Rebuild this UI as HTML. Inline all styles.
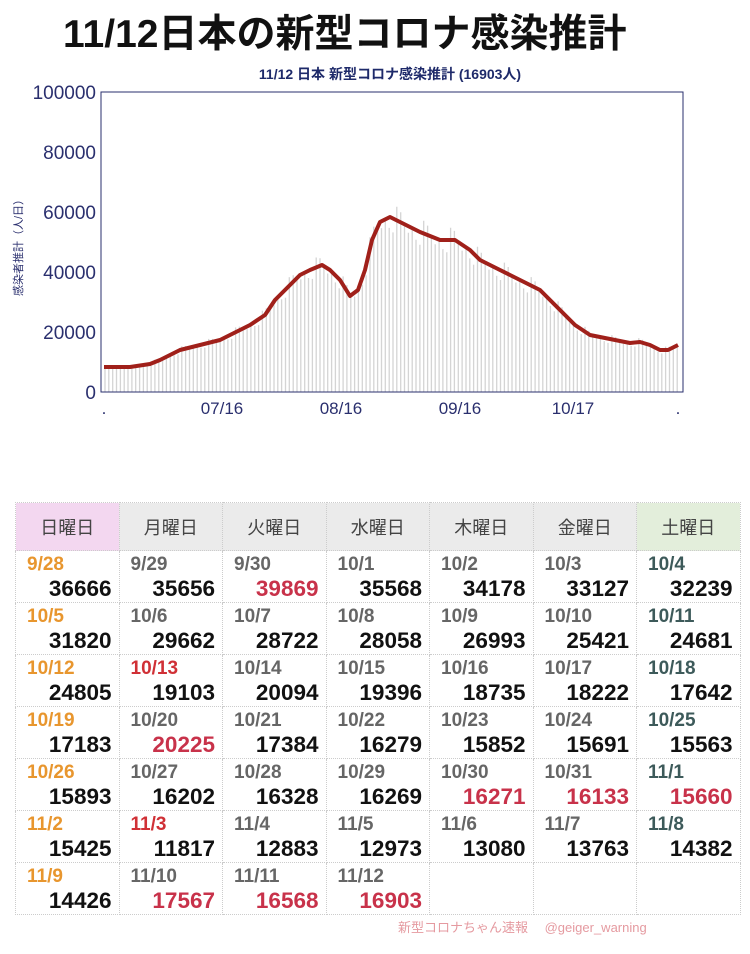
<!DOCTYPE html>
<html><head><meta charset="utf-8">
<style>
*{margin:0;padding:0;box-sizing:border-box}
body{width:750px;height:954px;background:#fff;position:relative;overflow:hidden;font-family:"Liberation Sans","Noto Sans CJK JP",sans-serif}
.title{position:absolute;left:63px;top:3px;font-size:39px;font-weight:bold;color:#111;letter-spacing:0px;white-space:nowrap}
table{position:absolute;left:15px;top:502px;border-collapse:collapse;table-layout:fixed;width:725px}
td,th{border:1px dotted #ccc;width:103.5px}
th{height:48px;font-weight:normal;font-size:18px;color:#444;background:#ebebeb}
th.su{background:#f3d7f0}th.sa{background:#e3eedb}
td{height:52px;vertical-align:top;padding:3px 7px 0 11px}
td .d{font-size:19px;color:#666;font-weight:bold;line-height:22px}
td .n{font-size:22.5px;font-weight:bold;color:#111;text-align:right;line-height:26px}
.o{color:#e8962e!important}.s{color:#3d5a5a!important}.r{color:#d03036!important}.rn{color:#c8324a!important}
.foot{position:absolute;left:398px;top:917px;font-size:13px;color:#e59aa0}
</style></head><body>
<div class="title">11/12日本の新型コロナ感染推計</div>
<svg id="ch" width="750" height="440" style="position:absolute;left:0;top:0">
<text x="390" y="79" font-size="14" font-weight="bold" fill="#1e2a6a" text-anchor="middle">11/12 日本 新型コロナ感染推計 (16903人)</text>
<g font-size="19" fill="#2a2f6e" text-anchor="end">
<text x="96" y="99">100000</text><text x="96" y="159">80000</text><text x="96" y="219">60000</text>
<text x="96" y="279">40000</text><text x="96" y="339">20000</text><text x="96" y="399">0</text>
</g>
<text transform="translate(22,245) rotate(-90)" font-size="11" fill="#2a2f6e" text-anchor="middle">感染者推計（人/日）</text>
<g id="bars" stroke="#d4d4d4" stroke-width="1.3"></g>
<rect x="101" y="92" width="582" height="300" fill="none" stroke="#2a2f6e" stroke-width="1"/>
<polyline id="ln" fill="none" stroke="#a0201a" stroke-width="4" stroke-linejoin="round"/>
<g font-size="17" fill="#2a2f6e" text-anchor="middle">
<text x="104" y="414">.</text><text x="222" y="414">07/16</text><text x="341" y="414">08/16</text>
<text x="460" y="414">09/16</text><text x="573" y="414">10/17</text><text x="678" y="414">.</text>
</g>
</svg>
<script>
var P=[[104,367],[130,367],[150,364],[160,360],[180,350],[200,345],[220,340],[240,330],[250,325],[265,315],[275,300],[290,285],[300,275],[310,270],[322,265],[330,270],[340,280],[350,296],[358,290],[365,270],[372,240],[380,222],[390,217],[400,222],[420,232],[440,240],[455,240],[470,250],[480,260],[490,265],[510,275],[520,280],[540,290],[560,310],[575,325],[590,335],[600,337],[615,340],[630,343],[640,342],[650,345],[660,350],[668,350],[678,345]];
document.getElementById('ln').setAttribute('points',P.map(function(p){return p.join(',')}).join(' '));
function yAt(x){for(var i=1;i<P.length;i++){if(x<=P[i][0]){var a=P[i-1],b=P[i];return a[1]+(b[1]-a[1])*(x-a[0])/(b[0]-a[0]);}}return P[P.length-1][1];}
var w=[1.06,1.0,0.96,0.99,0.94,0.92,1.08],g='';
for(var i=0;i<200;i++){var x=105+i*3.84;if(x>680)break;var h=(392-yAt(x))*w[i%7];g+='<line x1="'+x.toFixed(1)+'" x2="'+x.toFixed(1)+'" y1="392" y2="'+(392-h).toFixed(1)+'"/>';}
document.getElementById('bars').innerHTML=g;
</script>
<table>
<tr><th class="su">日曜日</th><th>月曜日</th><th>火曜日</th><th>水曜日</th><th>木曜日</th><th>金曜日</th><th class="sa">土曜日</th></tr>
<tr><td><div class="d o">9/28</div><div class="n">36666</div></td><td><div class="d">9/29</div><div class="n">35656</div></td><td><div class="d">9/30</div><div class="n rn">39869</div></td><td><div class="d">10/1</div><div class="n">35568</div></td><td><div class="d">10/2</div><div class="n">34178</div></td><td><div class="d">10/3</div><div class="n">33127</div></td><td><div class="d s">10/4</div><div class="n">32239</div></td></tr>
<tr><td><div class="d o">10/5</div><div class="n">31820</div></td><td><div class="d">10/6</div><div class="n">29662</div></td><td><div class="d">10/7</div><div class="n">28722</div></td><td><div class="d">10/8</div><div class="n">28058</div></td><td><div class="d">10/9</div><div class="n">26993</div></td><td><div class="d">10/10</div><div class="n">25421</div></td><td><div class="d s">10/11</div><div class="n">24681</div></td></tr>
<tr><td><div class="d o">10/12</div><div class="n">24805</div></td><td><div class="d r">10/13</div><div class="n">19103</div></td><td><div class="d">10/14</div><div class="n">20094</div></td><td><div class="d">10/15</div><div class="n">19396</div></td><td><div class="d">10/16</div><div class="n">18735</div></td><td><div class="d">10/17</div><div class="n">18222</div></td><td><div class="d s">10/18</div><div class="n">17642</div></td></tr>
<tr><td><div class="d o">10/19</div><div class="n">17183</div></td><td><div class="d">10/20</div><div class="n rn">20225</div></td><td><div class="d">10/21</div><div class="n">17384</div></td><td><div class="d">10/22</div><div class="n">16279</div></td><td><div class="d">10/23</div><div class="n">15852</div></td><td><div class="d">10/24</div><div class="n">15691</div></td><td><div class="d s">10/25</div><div class="n">15563</div></td></tr>
<tr><td><div class="d o">10/26</div><div class="n">15893</div></td><td><div class="d">10/27</div><div class="n">16202</div></td><td><div class="d">10/28</div><div class="n">16328</div></td><td><div class="d">10/29</div><div class="n">16269</div></td><td><div class="d">10/30</div><div class="n rn">16271</div></td><td><div class="d">10/31</div><div class="n rn">16133</div></td><td><div class="d s">11/1</div><div class="n rn">15660</div></td></tr>
<tr><td><div class="d o">11/2</div><div class="n">15425</div></td><td><div class="d r">11/3</div><div class="n">11817</div></td><td><div class="d">11/4</div><div class="n">12883</div></td><td><div class="d">11/5</div><div class="n">12973</div></td><td><div class="d">11/6</div><div class="n">13080</div></td><td><div class="d">11/7</div><div class="n">13763</div></td><td><div class="d s">11/8</div><div class="n">14382</div></td></tr>
<tr><td style="height:46px"><div class="d o">11/9</div><div class="n">14426</div></td><td><div class="d">11/10</div><div class="n rn">17567</div></td><td><div class="d">11/11</div><div class="n rn">16568</div></td><td><div class="d">11/12</div><div class="n rn">16903</div></td><td></td><td></td><td></td></tr>
</table>
<div class="foot">新型コロナちゃん速報　 @geiger_warning</div>
</body></html>
